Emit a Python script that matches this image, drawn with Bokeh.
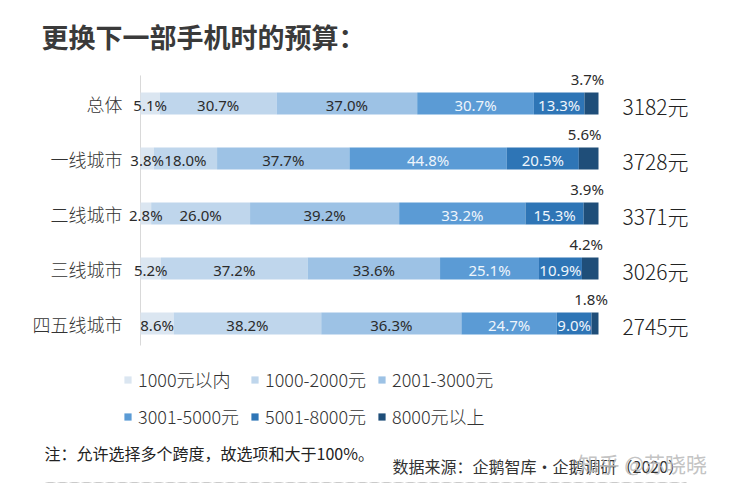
from bokeh.plotting import figure
from bokeh.models import ColumnDataSource, Range1d, Label, Legend, LegendItem, BoxAnnotation
from bokeh.core.properties import value
from bokeh.embed import file_html
from bokeh.resources import INLINE

# ---------------- data ----------------
categories = ["总体", "一线城市", "二线城市", "三线城市", "四五线城市"]
series_names = ["1000元以内", "1000-2000元", "2001-3000元", "3001-5000元", "5001-8000元", "8000元以上"]
s_under_1000 = [5.1, 3.8, 2.8, 5.2, 8.6]
s_1000_2000 = [30.7, 18.0, 26.0, 37.2, 38.2]
s_2001_3000 = [37.0, 37.7, 39.2, 33.6, 36.3]
s_3001_5000 = [30.7, 44.8, 33.2, 25.1, 24.7]
s_5001_8000 = [13.3, 20.5, 15.3, 10.9, 9.0]
s_over_8000 = [3.7, 5.6, 3.9, 4.2, 1.8]
avg_budget = [3182, 3728, 3371, 3026, 2745]

# ---------------- styles ----------------
bar_colors = ["#dbe6f1", "#bfd6ec", "#9dc2e5", "#5b9bd5", "#2e75b6", "#1f4e79"]
label_colors = ["#2b2b2b", "#2b2b2b", "#2b2b2b", "#eef5fc", "#eef5fc", "#2b2b2b"]
CJK = "Noto Sans CJK SC"
CJK_LIGHT = "'Noto Sans CJK SC Light', 'Noto Sans CJK SC'"
LAT = "Noto Sans"

W, H = 730, 490
X0, XW = 140, 458          # pixel position of share 0 and width of full bar
Y0, DY = 103, 55           # pixel centre of first row and row spacing
BAR_H = 22 / DY

p = figure(width=W, height=H, output_backend="svg", toolbar_location=None,
           x_range=Range1d(-X0 / XW, (W - X0) / XW),
           y_range=Range1d((H - Y0) / DY, -Y0 / DY),
           min_border=0, x_axis_location=None, y_axis_location=None,
           background_fill_color="white", border_fill_color="white")
p.outline_line_color = None
p.xgrid.visible = False
p.ygrid.visible = False

all_series = [s_under_1000, s_1000_2000, s_2001_3000, s_3001_5000, s_5001_8000, s_over_8000]
n = len(categories)
totals = [sum(s[i] for s in all_series) for i in range(n)]
rows = list(range(n))

# axis line
p.segment(x0=[0], y0=[-0.51], x1=[0], y1=[n - 0.6], line_color="#d9d9d9", line_width=1)

cum = [0.0] * n
legend_items = []
sources = []
for k, (name, vals) in enumerate(zip(series_names, all_series)):
    left = [cum[i] for i in range(n)]
    right = [cum[i] + vals[i] / totals[i] for i in range(n)]
    cum = right
    src = ColumnDataSource(dict(
        y=rows, left=left, right=right,
        mid=[(a + b) / 2 for a, b in zip(left, right)],
        label=[f"{v:.1f}%" for v in vals]))
    sources.append(src)
    r = p.hbar(y="y", left="left", right="right", height=BAR_H, source=src,
               fill_color=bar_colors[k], line_color=None)
    legend_items.append(LegendItem(label=name, renderers=[r]))

for k, src in enumerate(sources):
    above = (k == len(sources) - 1)
    p.text(x="mid", y="y", text="label", source=src,
           x_offset=-4 if above else 0, y_offset=-25 if above else 1,
           text_align="center", text_baseline="middle",
           text_font=value(LAT), text_font_size="15px", text_color=label_colors[k])

# category labels
cat_src = ColumnDataSource(dict(y=rows, x=[0.0] * n, text=categories))
p.text(x="x", y="y", text="text", source=cat_src, x_offset=-18,
       text_align="right", text_baseline="middle",
       text_font=value(CJK_LIGHT), text_font_size="18px", text_color="#333333")

# average budget labels
val_src = ColumnDataSource(dict(y=rows, x=[1.0] * n, text=[f"{v}元" for v in avg_budget]))
p.text(x="x", y="y", text="text", source=val_src, x_offset=24, y_offset=2,
       text_align="left", text_baseline="middle",
       text_font=value(CJK_LIGHT), text_font_size="21px", text_color="#222222")

legend = Legend(items=legend_items, location=(123, 61), orientation="horizontal",
                ncols=3, glyph_width=9, glyph_height=9, label_standoff=6,
                spacing=11, label_height=24, padding=0, margin=0,
                border_line_color=None, background_fill_alpha=0,
                label_text_font=CJK_LIGHT, label_text_font_size="18px",
                label_text_color="#333333")
p.add_layout(legend)

p.add_layout(Label(x=41, y=H - 36, x_units="screen", y_units="screen",
                   text="更换下一部手机时的预算：", text_font=CJK, text_font_size="27px",
                   text_font_style="bold", text_color="#3a3a3a", text_baseline="middle"))
p.add_layout(Label(x=44, y=H - 452, x_units="screen", y_units="screen",
                   text="注：允许选择多个跨度，故选项和大于100%。", text_font=CJK,
                   text_font_size="16px", text_color="#222222", text_baseline="middle"))
p.add_layout(Label(x=392, y=H - 465, x_units="screen", y_units="screen",
                   text="数据来源：企鹅智库·企鹅调研（2020）", text_font=CJK,
                   text_font_size="16px", text_color="#333333", text_baseline="middle"))
p.add_layout(Label(x=577, y=H - 462, x_units="screen", y_units="screen",
                   text="知乎 @苏晓晓", text_font=CJK, text_font_size="21px",
                   text_color="#bcbcbc", text_alpha=0.9, text_baseline="middle"))
p.add_layout(BoxAnnotation(left=45, right=686, top=H - 482, bottom=H - 482,
                           left_units="screen", right_units="screen",
                           top_units="screen", bottom_units="screen",
                           fill_alpha=0, line_color="#999999", line_width=1,
                           line_dash="8 4"))

open("out.html", "w").write(file_html(p, INLINE))
